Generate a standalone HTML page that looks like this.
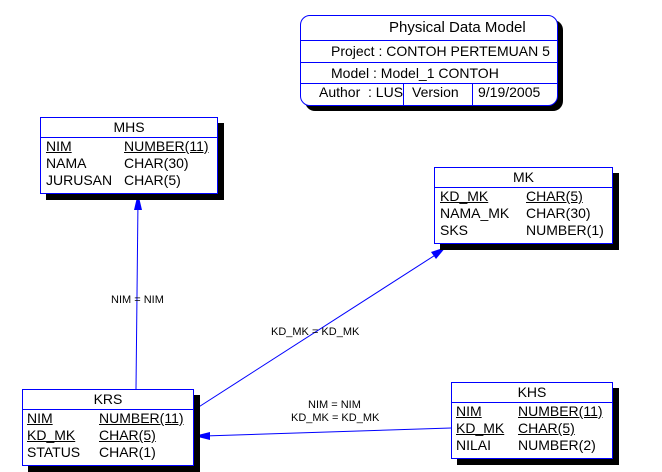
<html><head><style>
body{margin:0;width:662px;height:472px;background:#fff;position:relative;overflow:hidden;font-family:"Liberation Sans",sans-serif;font-size:14px;color:#000}
.e{position:absolute;background:#fff;border:1px solid #00f;box-shadow:6px 6px 0 #000}
.h{height:19px;border-bottom:1px solid #00f;text-align:center;line-height:19px}
.r{position:relative;height:17px;line-height:17px}
.r span{position:absolute}
.u{text-decoration:underline}
.t{position:absolute;font-size:11px}
</style></head><body>
<svg width="662" height="472" style="position:absolute;left:0;top:0">
<g stroke="#00f" stroke-width="1" fill="none">
<line x1="136" y1="389" x2="138" y2="200"/>
<line x1="194" y1="410" x2="440" y2="252"/>
<line x1="451" y1="428" x2="204" y2="436"/>
</g>
<g fill="#00f">
<polygon points="138,193 134,210 142,210"/>
<polygon points="446,247 436,259 431,252"/>
<polygon points="194,436 210,432 210,440"/>
</g>
</svg>
<div class="t" style="left:111px;top:294px">NIM = NIM</div>
<div class="t" style="left:271px;top:326px">KD_MK = KD_MK</div>
<div class="t" style="left:308px;top:399px">NIM = NIM</div>
<div class="t" style="left:291px;top:412px">KD_MK = KD_MK</div>

<div class="e" style="left:300px;top:15px;width:256px;height:89px;border-radius:10px;box-shadow:5px 5px 0 #000">
<div style="height:24px;border-bottom:1px solid #00f;line-height:24px;padding-left:88px;font-size:15px">Physical Data Model</div>
<div style="height:21px;border-bottom:1px solid #00f;line-height:21px;padding-left:30px">Project : CONTOH PERTEMUAN 5</div>
<div style="height:20px;border-bottom:1px solid #00f;line-height:20px;padding-left:30px">Model : Model_1 CONTOH</div>
<div style="position:relative;height:21px;line-height:17px">
<span style="position:absolute;left:18px">Author&nbsp; : LUS</span>
<span style="position:absolute;left:102px;top:0;height:21px;border-left:1px solid #00f"></span>
<span style="position:absolute;left:111px">Version</span>
<span style="position:absolute;left:171px;top:0;height:21px;border-left:1px solid #00f"></span>
<span style="position:absolute;left:177px">9/19/2005</span>
</div></div>

<div class="e" style="left:40px;top:117px;width:176px;height:75px">
<div class="h">MHS</div>
<div class="r"><span class="u" style="left:5px">NIM</span><span class="u" style="left:83px">NUMBER(11)</span></div>
<div class="r"><span style="left:5px">NAMA</span><span style="left:83px">CHAR(30)</span></div>
<div class="r"><span style="left:5px">JURUSAN</span><span style="left:83px">CHAR(5)</span></div>
</div>

<div class="e" style="left:434px;top:167px;width:177px;height:75px">
<div class="h">MK</div>
<div class="r"><span class="u" style="left:5px">KD_MK</span><span class="u" style="left:91px">CHAR(5)</span></div>
<div class="r"><span style="left:5px">NAMA_MK</span><span style="left:91px">CHAR(30)</span></div>
<div class="r"><span style="left:5px">SKS</span><span style="left:91px">NUMBER(1)</span></div>
</div>

<div class="e" style="left:22px;top:389px;width:170px;height:75px">
<div class="h">KRS</div>
<div class="r"><span class="u" style="left:4px">NIM</span><span class="u" style="left:76px">NUMBER(11)</span></div>
<div class="r"><span class="u" style="left:4px">KD_MK</span><span class="u" style="left:76px">CHAR(5)</span></div>
<div class="r"><span style="left:4px">STATUS</span><span style="left:76px">CHAR(1)</span></div>
</div>

<div class="e" style="left:451px;top:382px;width:160px;height:75px">
<div class="h">KHS</div>
<div class="r"><span class="u" style="left:4px">NIM</span><span class="u" style="left:66px">NUMBER(11)</span></div>
<div class="r"><span class="u" style="left:4px">KD_MK</span><span class="u" style="left:66px">CHAR(5)</span></div>
<div class="r"><span style="left:4px">NILAI</span><span style="left:66px">NUMBER(2)</span></div>
</div>
</body></html>
